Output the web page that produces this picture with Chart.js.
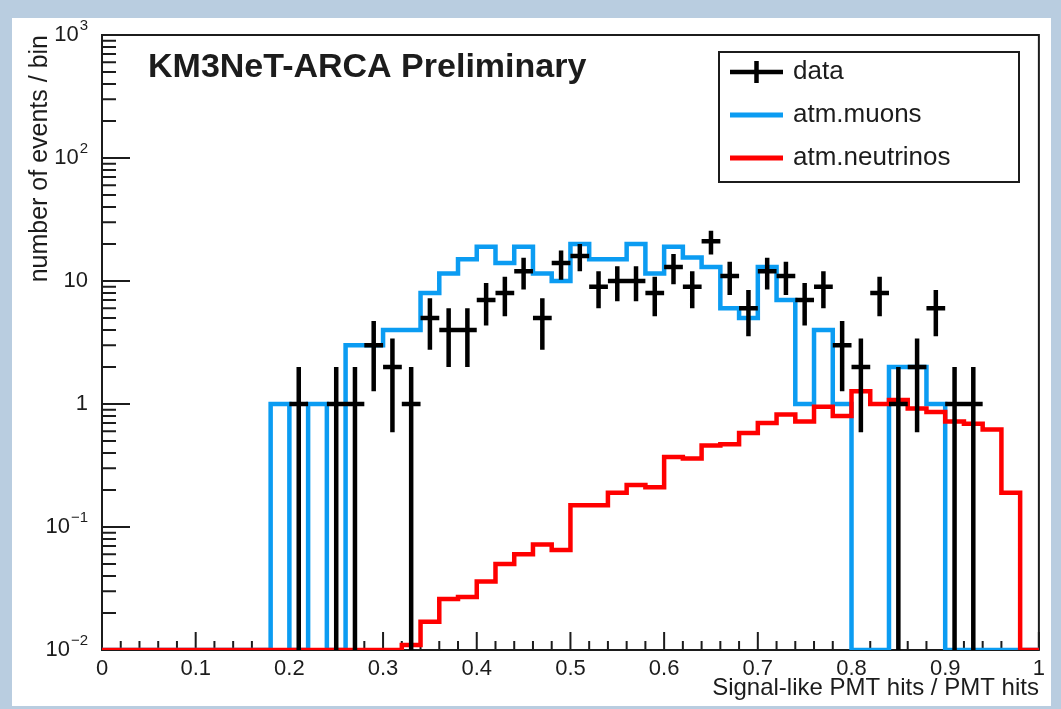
<!DOCTYPE html>
<html>
<head>
<meta charset="utf-8">
<script src="https://cdn.jsdelivr.net/npm/chart.js@4.4.0/dist/chart.umd.min.js"></script>
<style>
  html, body { margin: 0; padding: 0; width: 1061px; height: 709px; overflow: hidden; background: #b9cde0; }
  #wrap { position: absolute; left: 12px; top: 18px; width: 1039px; height: 688px; background: #fff; }
</style>
</head>
<body>
<div id="wrap"><canvas id="chart" width="1039" height="688"></canvas></div>
<script>
// bin edges of the histograms (50 bins)
const binEdges = [0.00, 0.02, 0.04, 0.06, 0.08, 0.10, 0.12, 0.14, 0.16, 0.18,
                  0.20, 0.22, 0.24, 0.26, 0.28, 0.30, 0.32, 0.34, 0.36, 0.38,
                  0.40, 0.42, 0.44, 0.46, 0.48, 0.50, 0.52, 0.54, 0.56, 0.58,
                  0.60, 0.62, 0.64, 0.66, 0.68, 0.70, 0.72, 0.74, 0.76, 0.78,
                  0.80, 0.82, 0.84, 0.86, 0.88, 0.90, 0.92, 0.94, 0.96, 0.98, 1.00];

// atm. muons MC, events per bin
const muons = [0, 0, 0, 0, 0, 0, 0, 0, 0, 1,
               0, 1, 0, 3, 3, 4, 4, 8, 11.5, 15,
               19, 14, 19, 11.5, 10, 20, 15, 15, 20, 11.5,
               19, 15.5, 13, 6, 5, 13, 7, 1, 4, 1,
               0, 0, 2, 2, 1, 0, 0, 0, 0, 0];

// atm. neutrinos MC, events per bin
const neutrinos = [0, 0, 0, 0, 0, 0, 0, 0, 0, 0,
                   0, 0, 0, 0, 0, 0, 0.011, 0.017, 0.026, 0.027,
                   0.036, 0.05, 0.06, 0.072, 0.065, 0.15, 0.15, 0.19, 0.22, 0.21,
                   0.37, 0.36, 0.46, 0.47, 0.58, 0.70, 0.82, 0.72, 0.95, 0.80,
                   1.27, 1.0, 1.08, 0.92, 0.86, 0.72, 0.69, 0.62, 0.19, 0];

// data points (bin centre, counts, error)
const dataX = [0.21, 0.25, 0.27, 0.29, 0.31, 0.33, 0.35, 0.37, 0.39, 0.41, 0.43, 0.45,
               0.47, 0.49, 0.51, 0.53, 0.55, 0.57, 0.59, 0.61, 0.63, 0.65, 0.67, 0.69,
               0.71, 0.73, 0.75, 0.77, 0.79, 0.81, 0.83, 0.85, 0.87, 0.89, 0.91, 0.93];
const dataCounts = [1, 1, 1, 3, 2, 1, 5, 4, 4, 7, 8, 12,
                    5, 14, 16, 9, 10, 10, 8, 13, 9, 21, 11, 6,
                    12, 11, 7, 9, 3, 2, 8, 1, 2, 6, 1, 1];
const dataErr = [1, 1, 1, 1.73, 1.41, 1, 2.24, 2, 2, 2.65, 2.83, 3.46,
                 2.24, 3.74, 4, 3, 3.16, 3.16, 2.83, 3.61, 3, 4.58, 3.32, 2.45,
                 3.46, 3.32, 2.65, 3, 1.73, 1.41, 2.83, 1, 1.41, 2.45, 1, 1];

// axis ticks
const xTickValues = [0, 0.1, 0.2, 0.3, 0.4, 0.5, 0.6, 0.7, 0.8, 0.9, 1];
const xTickLabels = ['0', '0.1', '0.2', '0.3', '0.4', '0.5', '0.6', '0.7', '0.8', '0.9', '1'];
const yTickValues = [0.01, 0.1, 1, 10, 100, 1000];
const yTickBase = ['10', '10', '1', '10', '10', '10'];
const yTickExp = ['\u22122', '\u22121', '', '', '2', '3'];

const yMin = 0.01, yMax = 1000;
const FONT = "'Liberation Sans', Arial, Helvetica, sans-serif";
const BLUE = '#0b9cf2';
const RED = '#ff0000';
const INK = '#1c1c1c';

// empty bins sit on the bottom of the log axis, like ROOT draws them
function stepPoints(counts) {
    const pts = counts.map((v, i) => ({ x: binEdges[i], y: v > 0 ? v : yMin }));
    const last = counts[counts.length - 1];
    pts.push({ x: binEdges[counts.length], y: last > 0 ? last : yMin });
    return pts;
}

// ROOT look: frame, inner ticks, error crosses, title, legend
const rootStyle = {
    id: 'rootStyle',
    beforeDatasetsDraw(chart) {
        const { ctx, chartArea: a, scales: { x, y } } = chart;
        ctx.save();
        ctx.strokeStyle = INK;
        ctx.lineWidth = 2;
        ctx.strokeRect(a.left, a.top, a.right - a.left, a.bottom - a.top);
        ctx.beginPath();
        binEdges.forEach(e => {
            const px = x.getPixelForValue(e);
            const major = Math.abs(e * 10 - Math.round(e * 10)) < 1e-6;
            ctx.moveTo(px, a.bottom);
            ctx.lineTo(px, a.bottom - (major ? 18 : 9));
        });
        yTickValues.forEach((d, i) => {
            const py = y.getPixelForValue(d);
            ctx.moveTo(a.left, py);
            ctx.lineTo(a.left + 28, py);
            if (i < yTickValues.length - 1) {
                for (let k = 2; k <= 9; k++) {
                    const pm = y.getPixelForValue(k * d);
                    ctx.moveTo(a.left, pm);
                    ctx.lineTo(a.left + 14, pm);
                }
            }
        });
        ctx.stroke();
        ctx.restore();
    },
    afterDatasetsDraw(chart) {
        const { ctx, scales: { x, y } } = chart;
        ctx.save();
        ctx.strokeStyle = '#000';
        ctx.lineWidth = 4.5;
        ctx.beginPath();
        dataX.forEach((cx, i) => {
            const n = dataCounts[i];
            const lo = n - dataErr[i] > 0 ? n - dataErr[i] : yMin;
            const px = x.getPixelForValue(cx);
            const py = y.getPixelForValue(n);
            ctx.moveTo(x.getPixelForValue(cx - 0.01), py);
            ctx.lineTo(x.getPixelForValue(cx + 0.01), py);
            ctx.moveTo(px, y.getPixelForValue(n + dataErr[i]));
            ctx.lineTo(px, y.getPixelForValue(lo));
        });
        ctx.stroke();
        ctx.restore();
    },
    afterDraw(chart) {
        const { ctx, chartArea: a, scales: { y } } = chart;
        ctx.save();
        ctx.fillStyle = INK;
        ctx.textBaseline = 'middle';

        // y tick labels with superscript exponents
        yTickValues.forEach((v, i) => {
            const py = y.getPixelForValue(v);
            ctx.font = '22px ' + FONT;
            const wb = ctx.measureText(yTickBase[i]).width;
            ctx.font = '15px ' + FONT;
            const we = yTickExp[i] ? ctx.measureText(yTickExp[i]).width + 1 : 0;
            const right = a.left - 14;
            ctx.font = '22px ' + FONT;
            ctx.textAlign = 'left';
            ctx.fillText(yTickBase[i], right - we - wb, py);
            if (yTickExp[i]) {
                ctx.font = '15px ' + FONT;
                ctx.fillText(yTickExp[i], right - we + 1, py - 9);
            }
        });

        // plot label
        ctx.font = 'bold 34px ' + FONT;
        ctx.textAlign = 'left';
        ctx.fillText('KM3NeT-ARCA Preliminary', a.left + 46, a.top + 33);

        // legend box
        const lx = a.left + 617, ly = a.top + 17, lw = 300, lh = 130;
        ctx.lineWidth = 2;
        ctx.strokeStyle = INK;
        ctx.strokeRect(lx, ly, lw, lh);
        const rows = [
            { text: 'data', color: '#000', cross: true },
            { text: 'atm.muons', color: BLUE },
            { text: 'atm.neutrinos', color: RED }
        ];
        rows.forEach((r, i) => {
            const ry = ly + 20 + i * 43;
            ctx.strokeStyle = r.color;
            ctx.lineWidth = r.cross ? 4.5 : 5;
            ctx.beginPath();
            ctx.moveTo(lx + 11, ry);
            ctx.lineTo(lx + 64, ry);
            if (r.cross) {
                ctx.moveTo(lx + 37.5, ry - 11);
                ctx.lineTo(lx + 37.5, ry + 11);
            }
            ctx.stroke();
            ctx.fillStyle = INK;
            ctx.font = '26px ' + FONT;
            ctx.fillText(r.text, lx + 74, ry);
        });
        ctx.restore();
    }
};

Chart.defaults.font.family = FONT;
Chart.defaults.color = INK;

new Chart(document.getElementById('chart'), {
    type: 'line',
    data: {
        datasets: [
            {
                label: 'data',
                type: 'scatter',
                data: dataX.map((x, i) => ({ x: x, y: dataCounts[i] })),
                showLine: false,
                pointRadius: 0,
                order: 0
            },
            {
                label: 'atm.neutrinos',
                data: stepPoints(neutrinos),
                borderColor: RED,
                borderWidth: 4.5,
                stepped: true,
                pointRadius: 0,
                fill: false,
                order: 1
            },
            {
                label: 'atm.muons',
                data: stepPoints(muons),
                borderColor: BLUE,
                borderWidth: 4.5,
                stepped: true,
                pointRadius: 0,
                fill: false,
                order: 2
            }
        ]
    },
    options: {
        responsive: false,
        animation: false,
        layout: { padding: { left: 0, top: 17, right: 8, bottom: 0 } },
        plugins: {
            legend: { display: false },
            tooltip: { enabled: false }
        },
        scales: {
            x: {
                type: 'linear',
                min: 0,
                max: 1,
                grid: { display: false, drawTicks: false },
                border: { display: false },
                afterBuildTicks: s => { s.ticks = xTickValues.map(v => ({ value: v })); },
                ticks: {
                    autoSkip: false,
                    maxRotation: 0,
                    padding: 6,
                    font: { size: 22 },
                    callback: (v, i) => xTickLabels[i]
                },
                title: {
                    display: true,
                    text: 'Signal-like PMT hits / PMT hits',
                    align: 'end',
                    font: { size: 24 },
                    padding: { top: 0, bottom: 3 }
                },
                afterFit: s => { s.height = 56; }
            },
            y: {
                type: 'logarithmic',
                min: yMin,
                max: yMax,
                grid: { display: false, drawTicks: false },
                border: { display: false },
                ticks: { display: false },
                title: {
                    display: true,
                    text: 'number of events / bin',
                    align: 'end',
                    font: { size: 25 },
                    padding: { top: 13, bottom: 0 }
                },
                afterFit: s => { s.width = 90; }
            }
        }
    },
    plugins: [rootStyle]
});
</script>
</body>
</html>
